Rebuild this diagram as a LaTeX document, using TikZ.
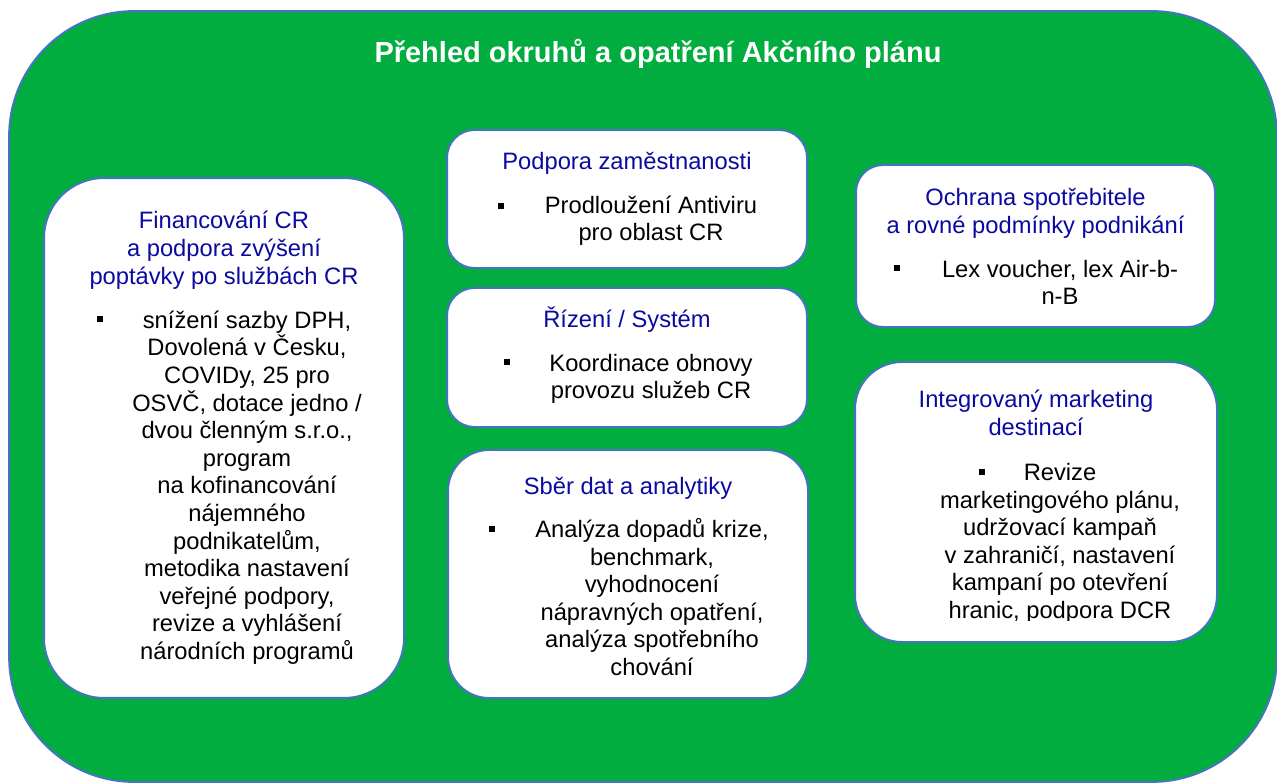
\documentclass[tikz,border=0pt]{standalone}
\usepackage{fontspec}
\setmainfont{Liberation Sans}
\usepackage{xcolor}
\usepackage{tikz}
\usetikzlibrary{positioning}
\definecolor{planzelena}{RGB}{0,173,62}
\definecolor{okraj}{RGB}{72,114,196}
\definecolor{nadpismodra}{RGB}{10,10,160}

\begin{document}
\begin{tikzpicture}[x=0.02cm, y=-0.02cm,
  o/.style={draw=okraj, line width=1.1pt, fill=white, inner sep=0pt},
  h/.style={text=nadpismodra, font=\fontsize{13.5}{16.1}\selectfont, align=center, anchor=base, inner sep=0pt},
  p/.style={font=\fontsize{13.5}{15.7}\selectfont, align=center, anchor=base, inner sep=0pt},
  r/.style={fill=black, minimum size=0.13cm, inner sep=0pt}
]
\useasboundingbox (0,0) rectangle (1277,783);

% podklad a nadpis
\node[o, fill=planzelena, minimum width=25.36cm, minimum height=15.42cm, rounded corners=2.5cm] (plan) at (643,396.5) {};
\node[font=\bfseries\fontsize{16.5}{20}\selectfont, text=white, anchor=base, inner sep=0pt] (titul) at (658,63) {Přehled okruhů a opatření Akčního plánu};

% levy sloupec (base = posledni radek)
\node[o, minimum width=7.2cm, minimum height=10.4cm, rounded corners=1.2cm] (fin) at (224,438) {};
\node[h] (fin-h) at (224,284.8) {Financování CR\\a podpora zvýšení\\poptávky po službách CR};
\node[p] (fin-t) at (247,659.4) {snížení sazby DPH,\\Dovolená v Česku,\\COVIDy, 25 pro\\OSVČ, dotace jedno /\\dvou členným s.r.o.,\\program\\na kofinancování\\nájemného\\podnikatelům,\\metodika nastavení\\veřejné podpory,\\revize a vyhlášení\\národních programů};
\node[r] (fin-r) at (100,319) {};

% prostredni sloupec
\node[o, minimum width=7.2cm, minimum height=2.76cm, rounded corners=0.55cm] (zam) at (627,199) {};
\node[h] (zam-h) at (627,170) {Podpora zaměstnanosti};
\node[p] (zam-t) at (651,240.7) {Prodloužení Antiviru\\pro oblast CR};
\node[r] (zam-r) at (501,206) {};

\node[o, minimum width=7.2cm, minimum height=2.78cm, rounded corners=0.55cm] (riz) at (627,357.5) {};
\node[h] (riz-h) at (627,328) {Řízení / Systém};
\node[p] (riz-t) at (651,398.7) {Koordinace obnovy\\provozu služeb CR};
\node[r] (riz-r) at (507,362) {};

\node[o, minimum width=7.2cm, minimum height=4.96cm, rounded corners=0.82cm] (dat) at (628,574) {};
\node[h] (dat-h) at (628,494) {Sběr dat a analytiky};
\node[p] (dat-t) at (652,675.5) {Analýza dopadů krize,\\benchmark,\\vyhodnocení\\nápravných opatření,\\analýza spotřebního\\chování};
\node[r] (dat-r) at (492,529) {};

% pravy sloupec
\node[o, minimum width=7.18cm, minimum height=3.24cm, rounded corners=0.54cm] (och) at (1035.5,246) {};
\node[h] (och-h) at (1035.5,233.4) {Ochrana spotřebitele\\a rovné podmínky podnikání};
\node[p] (och-t) at (1060,304.7) {Lex voucher, lex Air-b-\\n-B};
\node[r] (och-r) at (897,268) {};

\node[o, minimum width=7.24cm, minimum height=5.6cm, rounded corners=0.94cm] (mar) at (1036,502) {};
\node[h] (mar-h) at (1036,435.4) {Integrovaný marketing\\destinací};
\begin{scope}
\clip (860,370) rectangle (1210,620);
\node[p] (mar-t) at (1060,618.5) {Revize\\marketingového plánu,\\udržovací kampaň\\v zahraničí, nastavení\\kampaní po otevření\\hranic, podpora DCR};
\end{scope}
\node[r] (mar-r) at (982,472) {};
\end{tikzpicture}
\end{document}
